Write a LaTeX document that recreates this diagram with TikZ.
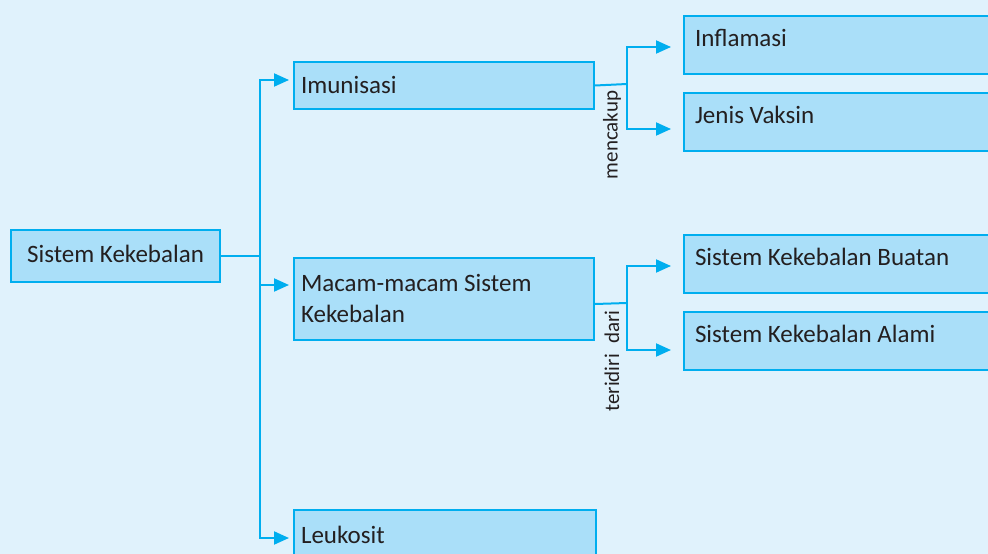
\documentclass[tikz,border=0pt]{standalone}
\usepackage{fontspec}
\setmainfont{Carlito}
\usetikzlibrary{arrows.meta}
\definecolor{bgblue}{RGB}{224,242,252}
\definecolor{boxfill}{RGB}{170,223,249}
\definecolor{cyanline}{RGB}{0,174,239}
\definecolor{ink}{RGB}{35,31,32}
\begin{document}
\begin{tikzpicture}[
		x=1pt, y=-1pt,
		every node/.style={font=\fontsize{25}{31}\selectfont, text=ink},
		box/.style={draw=cyanline, fill=boxfill, line width=2pt, anchor=north west, align=flush left, inner xsep=7pt, inner ysep=0pt, text height=16pt, text depth=0pt},
		rbox/.style={box, inner xsep=11pt, text width=298pt, minimum height=58pt, text depth=13pt},
		lbl/.style={rotate=90, font=\fontsize{21}{22}\selectfont, inner sep=0pt},
		link/.style={line width=2pt, draw=cyanline},
		arrow/.style={link, -{Triangle[length=15pt, width=13pt]}, shorten >=4pt},
	]
	\fill[bgblue] (0,0) rectangle (988,554);
	\useasboundingbox (0,0) rectangle (988,554);
	\clip (0,0) rectangle (988,554);

	\node[box, minimum width=209pt, minimum height=52pt, inner xsep=0pt, text depth=4pt] (sk) at (10,229) {Sistem Kekebalan};
	\node[box, text width=286pt, minimum height=47pt] (imun) at (293,61) {Imunisasi};
	\node[box, text width=286pt, minimum height=82pt, text depth=31pt] (macam) at (293,257) {Macam-macam Sistem\\Kekebalan};
	\node[box, text width=288pt, minimum height=50pt] (leuko) at (293,509) {Leukosit};
	\node[rbox] (infl)   at (683,15)  {Inflamasi};
	\node[rbox] (vaksin) at (683,92)  {Jenis Vaksin};
	\node[rbox] (buatan) at (683,234) {Sistem Kekebalan Buatan};
	\node[rbox] (alami)  at (683,311) {Sistem Kekebalan Alami};

	\node[lbl] (mencakup) at (612,135) {mencakup};
	\node[lbl] (terdiri)  at (612,361) {teridiri\enspace dari};

	% main trunk
	\coordinate (trunk) at (260,256);
	\draw[link] (sk.east) -- (trunk);
	\draw[arrow] (trunk) |- ([yshift=5.5pt]imun.west);
	\draw[arrow] (trunk) |- ([yshift=14pt]macam.west);
	\draw[arrow] (trunk) |- ([yshift=-3pt]leuko.west);

	% right forks
	\coordinate (forkA) at (627,84);
	\draw[link] (imun.east) -- (forkA);
	\draw[arrow, shorten >=12pt] (forkA) |- ([yshift=-2pt]infl.west);
	\draw[arrow, shorten >=12pt] (forkA) |- ([yshift=-7pt]vaksin.west);

	\coordinate (forkB) at (627,303);
	\draw[link] ([yshift=-5pt]macam.east) -- (forkB);
	\draw[arrow, shorten >=12pt] (forkB) |- ([yshift=-2pt]buatan.west);
	\draw[arrow, shorten >=12pt] (forkB) |- ([yshift=-9pt]alami.west);
\end{tikzpicture}
\end{document}
